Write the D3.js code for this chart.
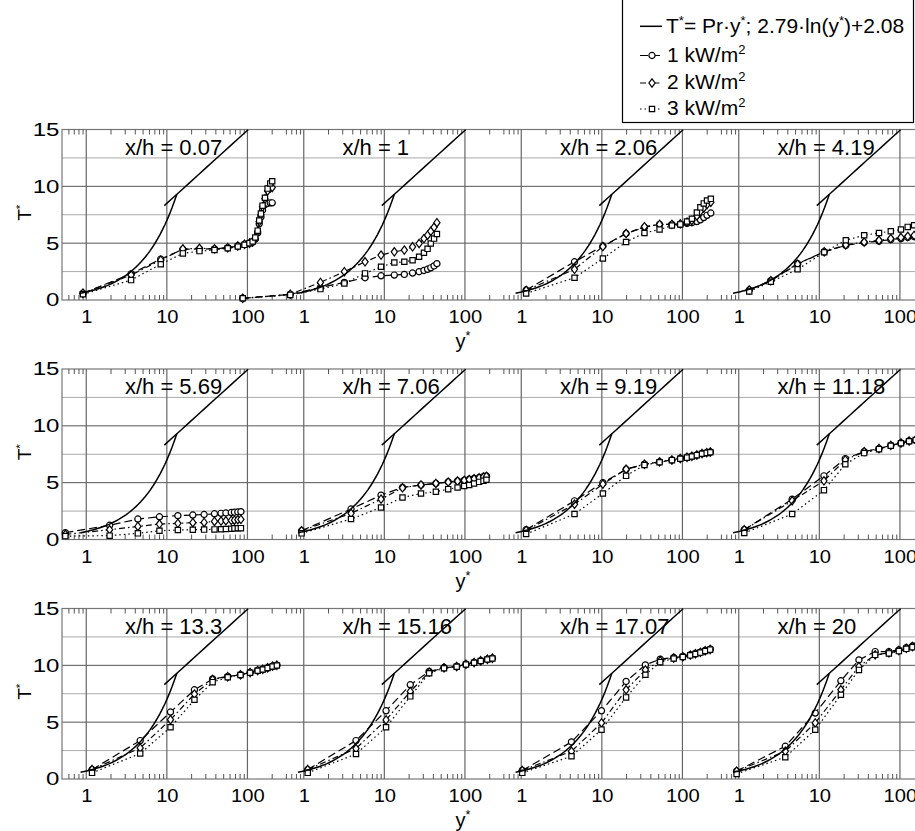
<!DOCTYPE html>
<meta charset="utf-8">
<style>
    body { margin: 0; background: #fff; }
    svg { display: block; font-family: "Liberation Sans", Arial, sans-serif; }
</style>
<svg width="915" height="831"></svg>
<script src="https://cdn.jsdelivr.net/npm/d3@7/dist/d3.min.js"></script>
<script>

    // panel titles (x/h)
    var titles = ["0.07", "1", "2.06", "4.19", "5.69", "7.06", "9.19", "11.18", "13.3", "15.16", "17.07", "20"];

    // y+ of the measured points, one list per panel
    var yPlus = [
        [0.91, 3.6, 8.4, 15.8, 25.4, 39, 57, 76, 92, 106, 116, 125, 134, 140, 147, 154, 165, 178, 192, 203],
        [0.175, 0.68, 1.61, 3.19, 5.76, 9.1, 13.3, 17.7, 22.4, 27, 31, 34.4, 37.7, 41.4, 44.9],
        [1.15, 4.58, 10.3, 20, 33.8, 52, 74, 94, 114, 131, 151, 167, 184, 202, 225],
        [1.35, 2.5, 5.37, 11.5, 21.3, 36, 55, 77, 103, 125, 150, 175],
        [0.55, 1.95, 4.37, 8.1, 13.7, 21, 29, 39, 47, 54, 63, 69, 76, 83],
        [0.94, 3.86, 9.1, 16.8, 28.5, 43.6, 62, 81, 98, 113, 130, 150, 170, 185],
        [1.15, 4.58, 10.3, 20, 33.8, 52, 74, 94, 114, 131, 151, 175, 200, 222],
        [1.17, 4.6, 11.4, 21, 36, 55, 77, 103, 130, 157, 185],
        [1.18, 4.67, 11.1, 22, 37, 57, 82, 108, 134, 155, 178, 205, 232],
        [1.12, 4.45, 10.5, 21, 36, 55, 79, 103, 130, 157, 190, 219],
        [1.03, 4.2, 9.9, 20, 34.7, 53, 78, 101, 125, 145, 167, 192, 221],
        [0.94, 3.78, 8.9, 18.5, 31, 49.3, 73, 97, 120, 143, 165]
    ];

    // T+ for 1 kW/m2
    var tQ1 = [
        [0.6, 2.3, 3.6, 4.45, 4.5, 4.5, 4.6, 4.75, 4.9, 5.0, 5.1, 5.35, 5.9, 6.7, 7.3, 7.9, 8.4, 8.5, 8.55, 8.55],
        [0.15, 0.5, 1.1, 1.55, 1.96, 2.13, 2.19, 2.25, 2.37, 2.49, 2.6, 2.7, 2.83, 3.0, 3.2],
        [0.88, 3.36, 4.75, 5.85, 6.4, 6.65, 6.65, 6.65, 6.75, 6.8, 6.9, 7.05, 7.25, 7.45, 7.65],
        [0.88, 1.7, 3.2, 4.24, 4.8, 5.06, 5.18, 5.32, 5.4, 5.5, 5.58, 5.65],
        [0.6, 1.25, 1.8, 2.0, 2.1, 2.15, 2.2, 2.26, 2.3, 2.33, 2.37, 2.4, 2.43, 2.45],
        [0.77, 2.68, 3.9, 4.58, 4.8, 4.93, 5.07, 5.16, 5.22, 5.3, 5.37, 5.45, 5.54, 5.6],
        [0.86, 3.4, 5.0, 6.18, 6.62, 6.83, 7.0, 7.12, 7.24, 7.32, 7.44, 7.56, 7.64, 7.7],
        [0.86, 3.55, 5.6, 7.12, 7.73, 8.0, 8.28, 8.49, 8.67, 8.75, 8.85],
        [0.83, 3.38, 5.89, 7.85, 8.8, 9.02, 9.17, 9.37, 9.55, 9.66, 9.78, 9.93, 10.01],
        [0.83, 3.38, 6.0, 8.29, 9.46, 9.81, 9.9, 10.1, 10.25, 10.4, 10.54, 10.63],
        [0.75, 3.26, 6.0, 8.58, 10.04, 10.54, 10.69, 10.78, 10.92, 11.04, 11.15, 11.3, 11.42],
        [0.69, 2.88, 5.8, 8.64, 10.48, 11.21, 11.21, 11.36, 11.56, 11.7, 11.8]
    ];

    // T+ for 2 kW/m2
    var tQ2 = [
        [0.6, 2.2, 3.5, 4.5, 4.55, 4.5, 4.6, 4.75, 4.9, 5.0, 5.1, 5.4, 6.0, 6.9, 7.5, 8.2, 8.9, 9.6, 9.85, 9.9],
        [0.15, 0.5, 1.55, 2.49, 3.36, 3.95, 4.24, 4.39, 4.68, 4.97, 5.4, 5.7, 6.05, 6.4, 6.8],
        [0.85, 2.7, 4.7, 5.85, 6.45, 6.65, 6.65, 6.7, 6.85, 7.0, 7.4, 7.8, 8.1, 8.4, 8.6],
        [0.88, 1.7, 3.15, 4.24, 4.85, 5.1, 5.25, 5.4, 5.5, 5.6, 5.68, 5.75],
        [0.45, 0.86, 1.15, 1.36, 1.42, 1.48, 1.5, 1.59, 1.62, 1.65, 1.68, 1.7, 1.74, 1.77],
        [0.77, 2.3, 3.55, 4.55, 4.8, 4.93, 5.05, 5.14, 5.2, 5.27, 5.34, 5.42, 5.5, 5.55],
        [0.8, 3.1, 4.87, 6.18, 6.62, 6.83, 7.0, 7.12, 7.24, 7.32, 7.44, 7.56, 7.64, 7.7],
        [0.86, 3.4, 5.16, 7.0, 7.73, 8.0, 8.28, 8.49, 8.67, 8.78, 8.88],
        [0.83, 2.73, 5.22, 7.47, 8.75, 9.0, 9.17, 9.37, 9.55, 9.66, 9.78, 9.93, 10.01],
        [0.83, 2.68, 5.2, 7.7, 9.4, 9.78, 9.9, 10.1, 10.25, 10.4, 10.54, 10.63],
        [0.75, 2.44, 4.93, 7.85, 9.6, 10.4, 10.65, 10.76, 10.9, 11.02, 11.14, 11.28, 11.4],
        [0.69, 2.44, 4.93, 7.85, 9.9, 10.92, 11.1, 11.3, 11.5, 11.65, 11.75]
    ];

    // T+ for 3 kW/m2
    var tQ3 = [
        [0.5, 1.75, 3.15, 4.1, 4.3, 4.4, 4.55, 4.7, 4.85, 5.0, 5.15, 5.5, 6.1, 7.0, 7.6, 8.3, 9.0, 9.8, 10.25, 10.45],
        [0.15, 0.45, 0.96, 1.46, 2.34, 2.92, 3.3, 3.36, 3.5, 3.8, 4.15, 4.5, 4.97, 5.4, 5.8],
        [0.58, 1.96, 3.65, 5.1, 5.9, 6.2, 6.55, 6.65, 6.9, 7.15, 7.7, 8.15, 8.5, 8.75, 8.9],
        [0.75, 1.6, 2.7, 4.2, 5.26, 5.7, 5.9, 6.05, 6.2, 6.43, 6.58, 6.65],
        [0.3, 0.34, 0.54, 0.77, 0.83, 0.86, 0.87, 0.89, 0.9, 0.92, 0.95, 0.98, 0.99, 1.0],
        [0.54, 1.8, 2.82, 3.7, 4.05, 4.2, 4.43, 4.58, 4.7, 4.8, 4.93, 5.07, 5.16, 5.25],
        [0.48, 2.24, 4.05, 5.6, 6.56, 6.8, 6.98, 7.1, 7.2, 7.3, 7.42, 7.54, 7.62, 7.68],
        [0.57, 2.24, 4.34, 6.62, 7.6, 7.95, 8.25, 8.47, 8.65, 8.75, 8.85],
        [0.54, 2.24, 4.55, 6.97, 8.52, 8.95, 9.15, 9.35, 9.53, 9.64, 9.76, 9.9, 9.98],
        [0.54, 2.2, 4.55, 7.27, 9.31, 9.75, 9.88, 10.08, 10.23, 10.38, 10.52, 10.6],
        [0.54, 2.0, 4.34, 7.18, 9.17, 10.28, 10.6, 10.74, 10.88, 11.0, 11.12, 11.26, 11.38],
        [0.45, 1.92, 4.34, 7.41, 9.6, 10.92, 11.05, 11.25, 11.45, 11.6, 11.7]
    ];

    // wall law shown as the solid line: T+ = Pr*y+ and T+ = A*ln(y+) + B
    var Pr = 0.7, lawA = 2.79, lawB = 2.08;
    var linSpan = [0.85, 13.3], logSpan = [9.3, 102];

    var xTicks = [1, 10, 100];
    var xMinor = [0.6, 0.7, 0.8, 0.9, 2, 3, 4, 5, 6, 7, 8, 9, 20, 30, 40, 50, 60, 70, 80, 90, 200];
    var yTicks = [0, 5, 10, 15];
    var yGrid = [2.5, 5, 7.5, 10, 12.5];
    var legendLabels = ["1 kW/m", "2 kW/m", "3 kW/m"];

    var svg = d3.select("svg");

    var left = 62, panelW = 217.5, rowTop = [129.5, 369, 608.5], rowH = 170.5;
    var rowRight = left + 4 * panelW;

    var dashes = ["8,4", "6,3,1.5,3", "1.5,3"];
    var diamond = {
        draw: function (ctx) {
            ctx.moveTo(0, -4.2); ctx.lineTo(3.1, 0); ctx.lineTo(0, 4.2); ctx.lineTo(-3.1, 0); ctx.closePath();
        }
    };
    var markers = [
        d3.symbol(d3.symbolCircle, 30),
        d3.symbol(diamond),
        d3.symbol(d3.symbolSquare, 28)
    ];
    var series = [tQ1, tQ2, tQ3];

    // text made of plain and superscript pieces
    function supText(sel, parts, size) {
        var prevSup = false;
        parts.forEach(function (p) {
            var t = sel.append("tspan").text(p[0]);
            if (p[1]) {
                t.attr("font-size", size * 0.62).attr("dy", -size * 0.38);
            } else if (prevSup) {
                t.attr("dy", size * 0.38);
            }
            prevSup = p[1];
        });
    }

    // rows: grid + frame + y axis + labels
    rowTop.forEach(function (top, r) {
        var y = d3.scaleLinear().domain([0, 15]).range([top + rowH, top]);
        var g = svg.append("g");

        g.selectAll(".hg").data(yGrid).enter().append("line")
            .attr("x1", left).attr("x2", rowRight)
            .attr("y1", function (d) { return y(d); }).attr("y2", function (d) { return y(d); })
            .attr("stroke", function (d) { return d % 5 === 0 ? "#555" : "#aaa"; })
            .attr("stroke-width", 1);

        g.append("rect").attr("x", left).attr("y", top).attr("width", rowRight - left).attr("height", rowH)
            .attr("fill", "none").attr("stroke", "#777").attr("stroke-width", 1.2);

        var ya = g.append("g").attr("transform", "translate(" + left + ",0)")
            .call(d3.axisLeft(y).tickValues(yTicks).tickSize(0).tickPadding(2));
        ya.select(".domain").remove();
        ya.attr("font-family", null).attr("font-size", 18.5);
        ya.selectAll("text").attr("fill", "#000").attr("transform", "scale(1.3,1)");

        // T+ label
        var tl = g.append("text").attr("transform", "translate(31," + (top + rowH / 2 - 2) + ") rotate(-90)")
            .attr("text-anchor", "middle").attr("font-size", 19);
        supText(tl, [["T", false], ["*", true]], 19);

        // y+ label
        var yl = g.append("text").attr("x", 463).attr("y", top + rowH + 48)
            .attr("text-anchor", "middle").attr("font-size", 20);
        supText(yl, [["y", false], ["*", true]], 20);
    });

    var line = d3.line();

    titles.forEach(function (title, i) {
        var r = Math.floor(i / 4), c = i % 4;
        var top = rowTop[r], bottom = top + rowH;
        var x = d3.scaleLog().domain([0.5, 250]).range([left + c * panelW, left + (c + 1) * panelW]);
        var y = d3.scaleLinear().domain([0, 15]).range([bottom, top]);
        var g = svg.append("g");

        // decade grid lines
        g.selectAll(".vg").data(xTicks).enter().append("line")
            .attr("x1", function (d) { return x(d); }).attr("x2", function (d) { return x(d); })
            .attr("y1", top).attr("y2", bottom)
            .attr("stroke", "#666").attr("stroke-width", 1.2);

        // minor ticks at top and bottom
        var mb = g.append("g").attr("transform", "translate(0," + bottom + ")")
            .call(d3.axisBottom(x).tickValues(xMinor).tickSize(-5).tickFormat(""));
        var mt = g.append("g").attr("transform", "translate(0," + top + ")")
            .call(d3.axisTop(x).tickValues(xMinor).tickSize(-5).tickFormat(""));
        [mb, mt].forEach(function (a) {
            a.select(".domain").remove();
            a.selectAll("line").attr("stroke", "#555");
        });

        // tick labels
        var xa = g.append("g").attr("transform", "translate(0," + bottom + ")")
            .call(d3.axisBottom(x).tickValues(xTicks).tickSize(0).tickFormat(d3.format("d")));
        xa.select(".domain").remove();
        xa.attr("font-family", null).attr("font-size", 18);
        xa.selectAll("text").attr("fill", "#000").attr("dy", null).attr("y", 23.5)
            .attr("transform", "scale(1.12,1)");

        // title, "=" sits on the y+=10 grid line
        var tt = g.append("text").attr("y", top + 25).attr("font-size", 22).text("x/h = " + title);
        var pre = tt.node().getSubStringLength(0, 4), eq = tt.node().getSubStringLength(4, 1);
        tt.attr("x", x(10) - pre - eq / 2);

        // data series
        series.forEach(function (s, k) {
            var pts = yPlus[i].map(function (v, j) { return [x(v), y(s[i][j])]; });
            g.append("path").attr("d", line(pts)).attr("fill", "none")
                .attr("stroke", "#000").attr("stroke-width", 1.2).attr("stroke-dasharray", dashes[k]);
            g.selectAll(".m" + k).data(pts).enter().append("path")
                .attr("transform", function (d) { return "translate(" + d[0] + "," + d[1] + ")"; })
                .attr("d", markers[k]).attr("fill", "#fff").attr("stroke", "#000").attr("stroke-width", 1.2);
        });

        // wall law
        var lin = d3.range(0, 41).map(function (j) {
            var v = linSpan[0] * Math.pow(linSpan[1] / linSpan[0], j / 40);
            return [x(v), y(Pr * v)];
        });
        var lg = d3.range(0, 11).map(function (j) {
            var v = logSpan[0] * Math.pow(logSpan[1] / logSpan[0], j / 10);
            return [x(v), y(lawA * Math.log(v) + lawB)];
        });
        [lin, lg].forEach(function (p) {
            g.append("path").attr("d", line(p)).attr("fill", "none")
                .attr("stroke", "#000").attr("stroke-width", 1.5);
        });
    });

    // legend
    var leg = svg.append("g");
    leg.append("rect").attr("x", 622.5).attr("y", -1).attr("width", 291).attr("height", 123.5)
        .attr("fill", "#fff").attr("stroke", "#000").attr("stroke-width", 1.2);
    var base = [33.3, 61.5, 89, 115];
    leg.append("line").attr("x1", 640).attr("x2", 662).attr("y1", base[0] - 7).attr("y2", base[0] - 7)
        .attr("stroke", "#000").attr("stroke-width", 1.5);
    var t0 = leg.append("text").attr("x", 666).attr("y", base[0]).attr("font-size", 21);
    supText(t0, [["T", false], ["*", true], ["= Pr\u00b7y", false], ["*", true], ["; 2.79\u00b7ln(y", false], ["*", true], [")+2.08", false]], 21);
    legendLabels.forEach(function (lab, k) {
        var by = base[k + 1] - 6;
        leg.append("line").attr("x1", 640).attr("x2", 662).attr("y1", by).attr("y2", by)
            .attr("stroke", "#000").attr("stroke-width", 1.2).attr("stroke-dasharray", dashes[k]);
        leg.append("path").attr("transform", "translate(652," + by + ")").attr("d", markers[k])
            .attr("fill", "#fff").attr("stroke", "#000").attr("stroke-width", 1.2);
        var t = leg.append("text").attr("x", 667).attr("y", base[k + 1]).attr("font-size", 21);
        supText(t, [[lab, false], ["2", true]], 21);
    });

</script>
